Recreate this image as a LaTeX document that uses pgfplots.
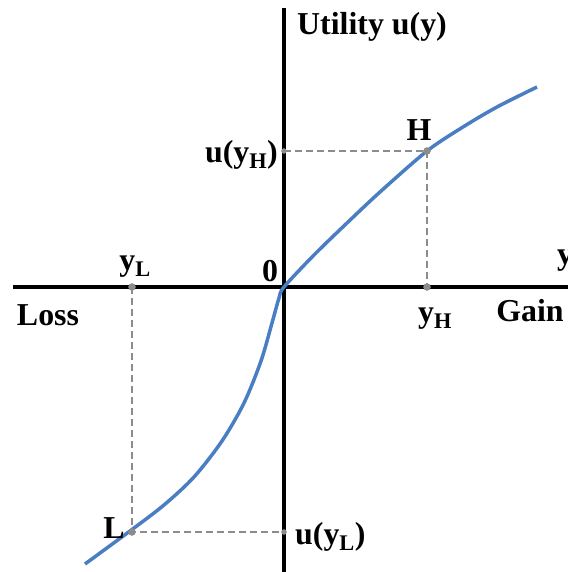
\documentclass[border=0pt]{standalone}
\usepackage{fontspec}
\setmainfont{Liberation Serif}
\usepackage{pgfplots}
\pgfplotsset{compat=1.18}

\definecolor{curveblue}{HTML}{4A7EC2}
\definecolor{guidegray}{HTML}{8C8C8C}
\tikzset{lbl/.style={font=\fontsize{32}{36}\selectfont\bfseries, inner sep=0pt}}

\begin{document}
\begin{tikzpicture}
\begin{axis}[
    scale only axis,
    width=568bp, height=572bp,
    xmin=-284, xmax=284,
    ymin=-285, ymax=287,
    hide axis,
    clip=false,
]
% axes
\addplot[black, line width=4bp] coordinates {(-271,0) (284,0)};
\addplot[black, line width=4bp] coordinates {(0,279) (0,-285)};

% guide lines
\addplot[guidegray, line width=2bp, dash pattern=on 7bp off 4bp] coordinates {(-152,0) (-152,-245) (0,-245)};
\addplot[guidegray, line width=2bp, dash pattern=on 7bp off 4bp] coordinates {(0,136) (143,136) (143,0)};

% utility curve
\addplot[curveblue, line width=3.5bp, smooth] coordinates {
(-199,-277) (-154,-244) (-120,-218) (-90,-190) (-62,-154) (-40,-116)
(-23,-74) (-12,-36) (-5,-11) (0,0) (30,32) (63,64) (96,95) (143,136)
(179,160) (213,180) (253,200)};

% points
\addplot[only marks, mark=*, mark size=3.5bp, guidegray] coordinates {
(-152,0) (-152,-245) (143,136) (143,0)};
\addplot[only marks, mark=*, mark size=2.5bp, guidegray] coordinates {
(0,-245) (0,136)};

% labels
\node[lbl, anchor=west] at (axis cs:13,260) {Utility u(y)};
\node[lbl, anchor=east] at (axis cs:-6,132) {u(y\textsubscript{H})};
\node[lbl] at (axis cs:-149,20) {y\textsubscript{L}};
\node[lbl] at (axis cs:-14,16) {0};
\node[lbl] at (axis cs:-236,-28) {Loss};
\node[lbl] at (axis cs:151,-32) {y\textsubscript{H}};
\node[lbl] at (axis cs:246,-24) {Gain};
\node[lbl, anchor=base west] at (axis cs:273,22) {y};
\node[lbl] at (axis cs:135,157) {H};
\node[lbl] at (axis cs:-170,-241) {L};
\node[lbl, anchor=west] at (axis cs:11,-250) {u(y\textsubscript{L})};
\end{axis}
\pgfresetboundingbox
\useasboundingbox (current axis.south west) rectangle (current axis.north east);
\end{tikzpicture}
\end{document}
